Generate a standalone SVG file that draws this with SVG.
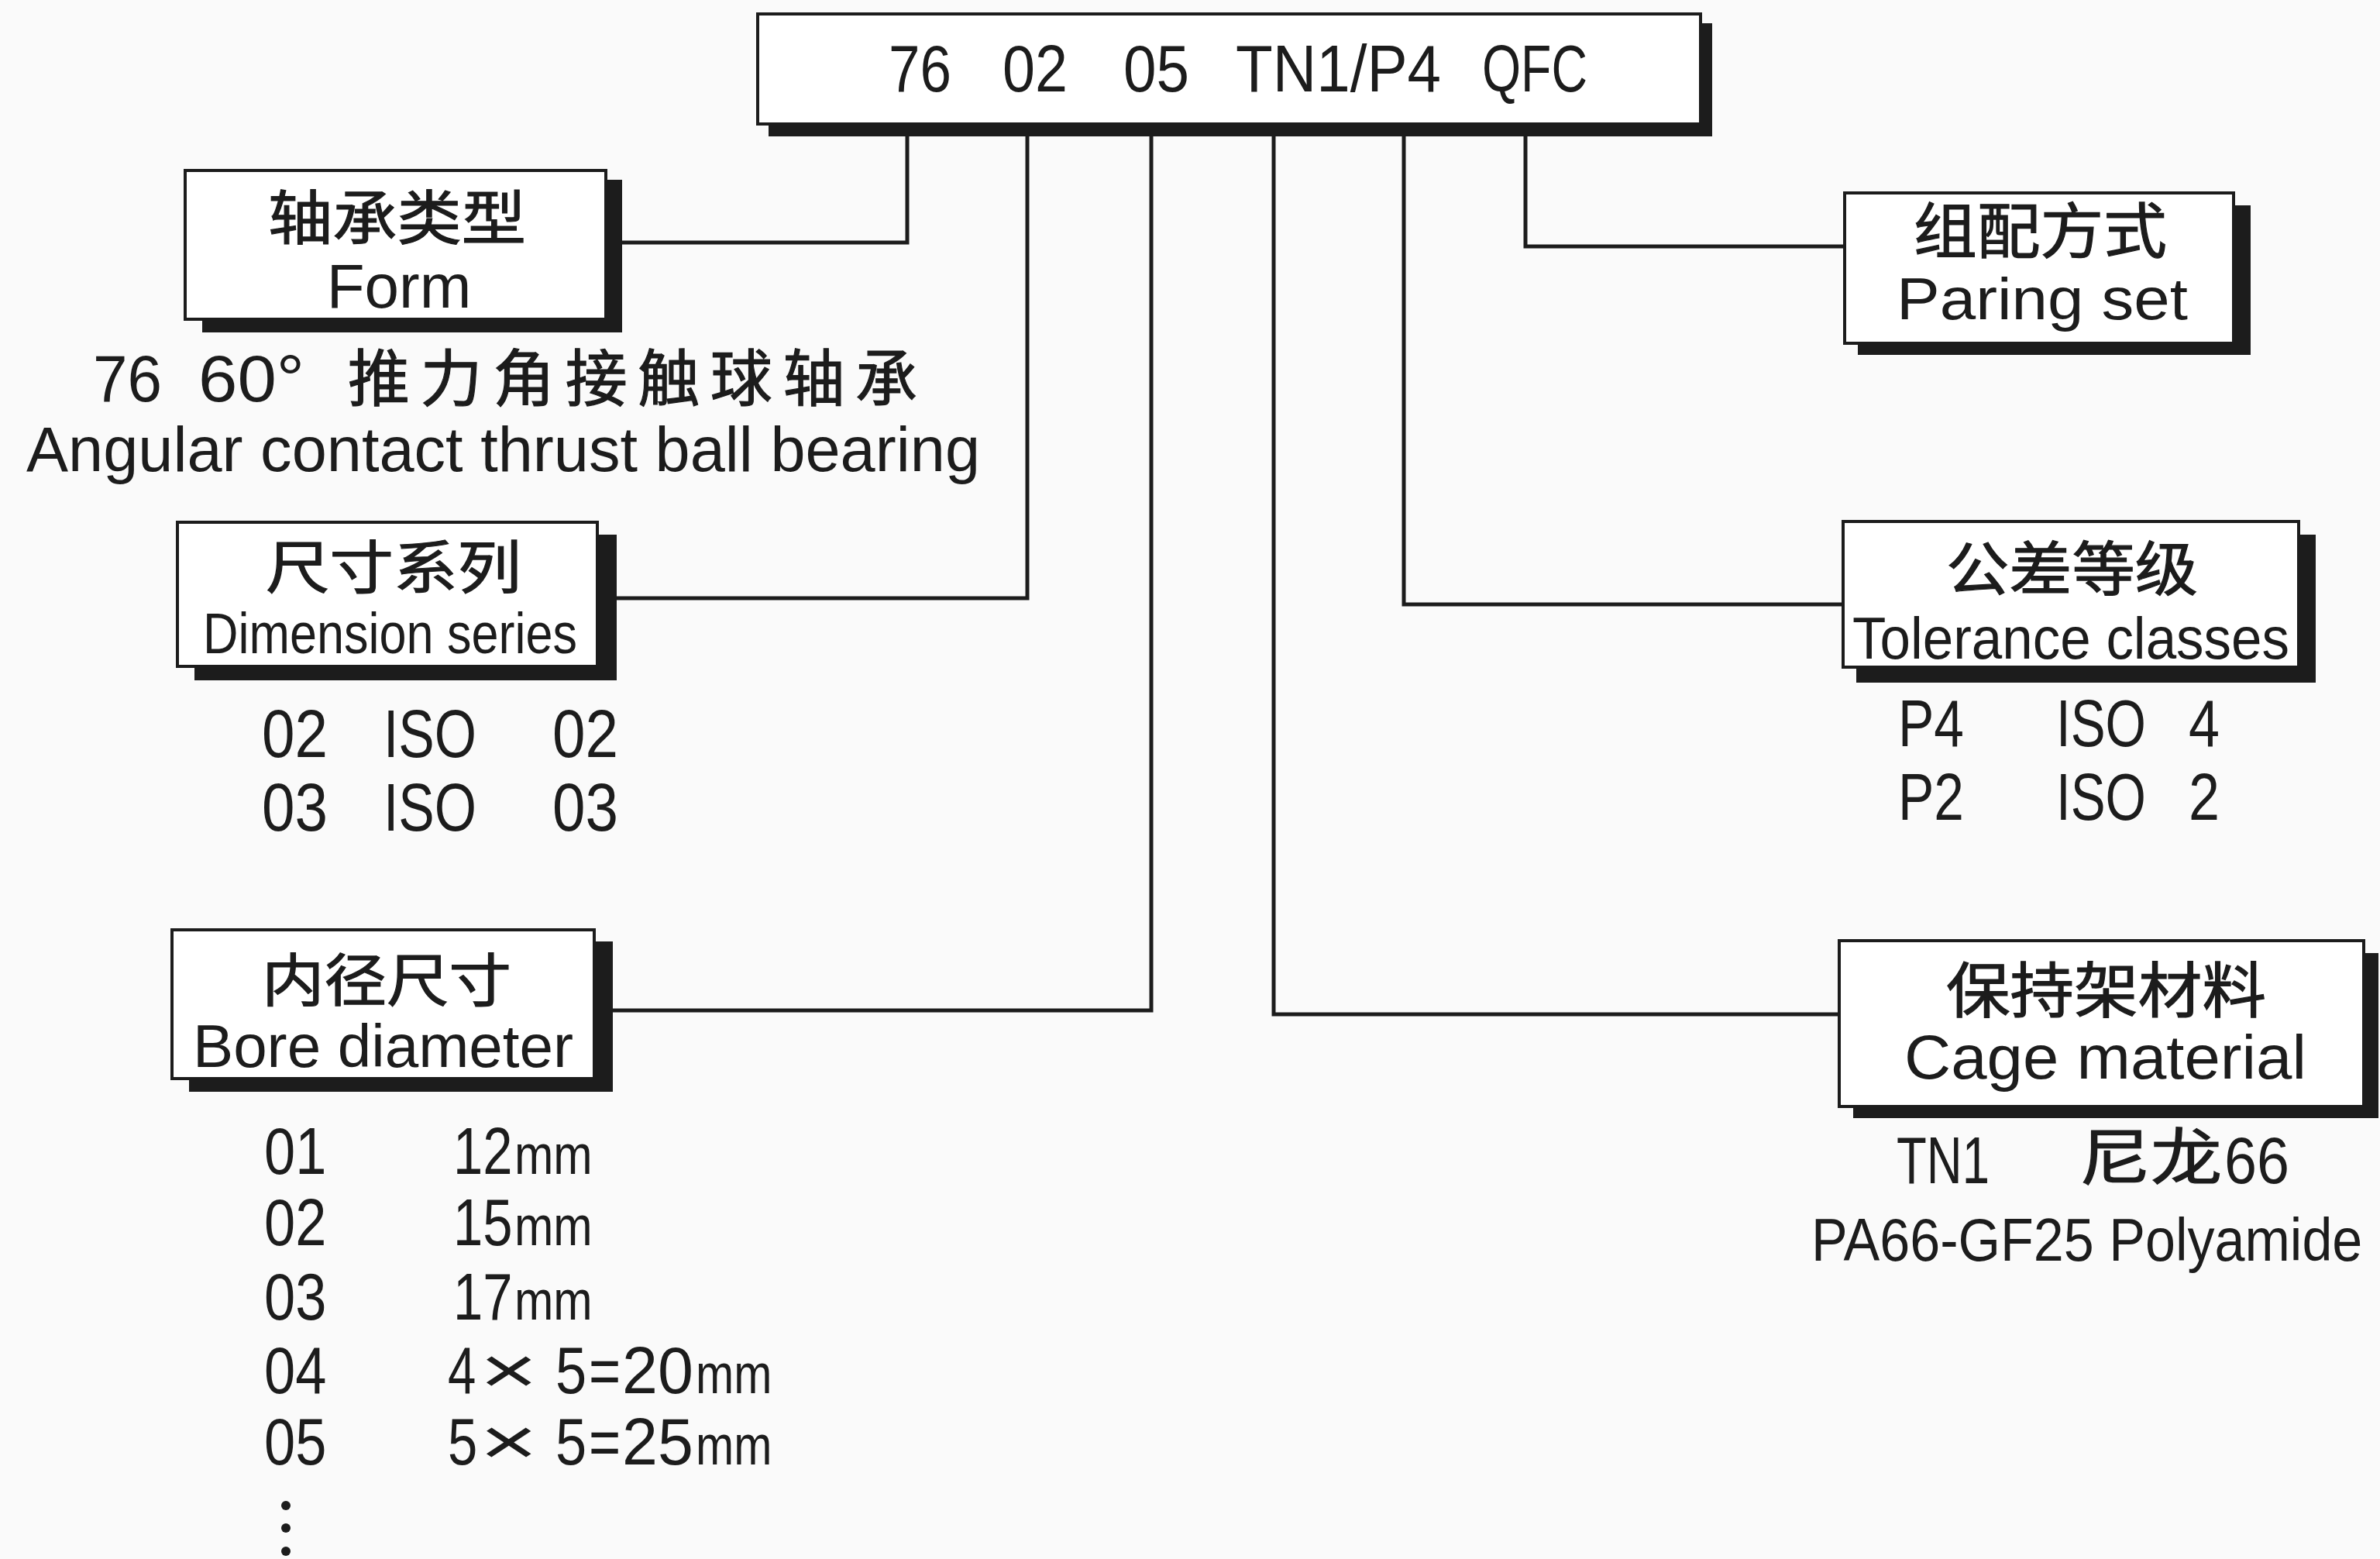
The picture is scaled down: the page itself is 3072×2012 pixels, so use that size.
<svg xmlns="http://www.w3.org/2000/svg" width="3072" height="2012" viewBox="0 0 3072 2012">
<style>
.bg{fill:#fafafa}
.box{fill:#ffffff;stroke:#1c1c1c;stroke-width:4}
.sh{fill:#1c1c1c}
.conn{fill:none;stroke:#1c1c1c;stroke-width:5}
.lat{font-family:"Liberation Sans",Arial,sans-serif;fill:#1c1c1c}
.cjk{font-family:"Noto Sans CJK SC",sans-serif;fill:#1c1c1c;stroke:#1c1c1c;stroke-width:1.2}
.mm{font-size:72px}
</style>
<rect class="bg" x="0" y="0" width="3072" height="2012"/>

<g id="connectors">
<path class="conn" d="M1171 170 V313 H790"/>
<path class="conn" d="M1326 170 V772 H778"/>
<path class="conn" d="M1486 170 V1304 H774"/>
<path class="conn" d="M1644 170 V1309 H2374"/>
<path class="conn" d="M1812 170 V780 H2379"/>
<path class="conn" d="M1969 170 V318 H2381"/>
</g>

<g id="code">
<rect class="sh" x="992" y="30" width="1218" height="146"/>
<rect class="box" x="978" y="18" width="1217" height="142"/>
<g class="lat" font-size="86">
<text x="1147" y="118" textLength="81" lengthAdjust="spacingAndGlyphs">76</text>
<text x="1294" y="118" textLength="84" lengthAdjust="spacingAndGlyphs">02</text>
<text x="1450" y="118" textLength="85" lengthAdjust="spacingAndGlyphs">05</text>
<text x="1595" y="118" textLength="265" lengthAdjust="spacingAndGlyphs">TN1/P4</text>
<text x="1913" y="118" textLength="136" lengthAdjust="spacingAndGlyphs">QFC</text>
</g>
</g>

<g id="form">
<rect class="sh" x="261" y="232" width="542" height="197"/>
<rect class="box" x="239" y="220" width="543" height="192"/>
<text class="cjk" x="346" y="309" font-size="76" textLength="333" lengthAdjust="spacingAndGlyphs">轴承类型</text>
<text class="lat" x="515" y="397" font-size="80" text-anchor="middle">Form</text>
<text class="lat" x="120" y="518" font-size="85" textLength="89" lengthAdjust="spacingAndGlyphs">76</text>
<text class="lat" x="256" y="518" font-size="85" textLength="137" lengthAdjust="spacingAndGlyphs">60°</text>
<text class="cjk" x="449" y="517" font-size="80" textLength="735">推力角接触球轴承</text>
<text class="lat" x="34" y="608" font-size="81" textLength="1231" lengthAdjust="spacingAndGlyphs">Angular contact thrust ball bearing</text>
</g>

<g id="dimension">
<rect class="sh" x="251" y="690" width="545" height="188"/>
<rect class="box" x="229" y="674" width="542" height="186"/>
<text class="cjk" x="343" y="759" font-size="74" textLength="330" lengthAdjust="spacingAndGlyphs">尺寸系列</text>
<text class="lat" x="262" y="843" font-size="75" textLength="483" lengthAdjust="spacingAndGlyphs">Dimension series</text>
<g class="lat" font-size="88">
<text x="338" y="977" textLength="85" lengthAdjust="spacingAndGlyphs">02</text>
<text x="495" y="977" textLength="120" lengthAdjust="spacingAndGlyphs">ISO</text>
<text x="713" y="977" textLength="85" lengthAdjust="spacingAndGlyphs">02</text>
<text x="338" y="1072" textLength="85" lengthAdjust="spacingAndGlyphs">03</text>
<text x="495" y="1072" textLength="120" lengthAdjust="spacingAndGlyphs">ISO</text>
<text x="713" y="1072" textLength="85" lengthAdjust="spacingAndGlyphs">03</text>
</g>
</g>

<g id="bore">
<rect class="sh" x="244" y="1215" width="547" height="194"/>
<rect class="box" x="222" y="1200" width="545" height="192"/>
<text class="cjk" x="338" y="1292" font-size="74" textLength="322" lengthAdjust="spacingAndGlyphs">内径尺寸</text>
<text class="lat" x="249" y="1377" font-size="77" textLength="491" lengthAdjust="spacingAndGlyphs">Bore diameter</text>
<g class="lat" font-size="86">
<text transform="translate(341,1515) scale(0.84,1)">01</text>
<text transform="translate(585,1515) scale(0.8,1)">12</text>
<text class="mm" transform="translate(664,1515) scale(0.84,1)">mm</text>
<text transform="translate(341,1607) scale(0.84,1)">02</text>
<text transform="translate(585,1607) scale(0.8,1)">15</text>
<text class="mm" transform="translate(664,1607) scale(0.84,1)">mm</text>
<text transform="translate(341,1703) scale(0.84,1)">03</text>
<text transform="translate(585,1703) scale(0.8,1)">17</text>
<text class="mm" transform="translate(664,1703) scale(0.84,1)">mm</text>
<text transform="translate(341,1798) scale(0.84,1)">04</text>
<text transform="translate(578,1798) scale(0.76,1)">4</text>
<text transform="translate(619,1798) scale(1.5,1)">×</text>
<text transform="translate(717,1798) scale(0.84,1)">5</text>
<text transform="translate(760,1798) scale(0.82,1)">=</text>
<text transform="translate(803,1798) scale(0.96,1)">20</text>
<text class="mm" transform="translate(898,1798) scale(0.82,1)">mm</text>
<text transform="translate(341,1890) scale(0.84,1)">05</text>
<text transform="translate(578,1890) scale(0.8,1)">5</text>
<text transform="translate(619,1890) scale(1.5,1)">×</text>
<text transform="translate(717,1890) scale(0.84,1)">5</text>
<text transform="translate(760,1890) scale(0.82,1)">=</text>
<text transform="translate(803,1890) scale(0.96,1)">25</text>
<text class="mm" transform="translate(898,1890) scale(0.82,1)">mm</text>
</g>
<circle cx="369" cy="1943" r="6" fill="#1c1c1c"/>
<circle cx="369" cy="1972" r="6" fill="#1c1c1c"/>
<circle cx="369" cy="2002" r="6" fill="#1c1c1c"/>
</g>

<g id="paring">
<rect class="sh" x="2398" y="265" width="507" height="193"/>
<rect class="box" x="2381" y="249" width="502" height="194"/>
<text class="cjk" x="2470" y="327" font-size="78" textLength="327" lengthAdjust="spacingAndGlyphs">组配方式</text>
<text class="lat" x="2448" y="412" font-size="76" textLength="376" lengthAdjust="spacingAndGlyphs">Paring set</text>
</g>

<g id="tolerance">
<rect class="sh" x="2396" y="690" width="593" height="191"/>
<rect class="box" x="2379" y="673" width="588" height="188"/>
<text class="cjk" x="2512" y="762" font-size="76" textLength="325" lengthAdjust="spacingAndGlyphs">公差等级</text>
<text class="lat" x="2391" y="850" font-size="76" textLength="564" lengthAdjust="spacingAndGlyphs">Tolerance classes</text>
<g class="lat" font-size="85">
<text x="2450" y="963" textLength="85" lengthAdjust="spacingAndGlyphs">P4</text>
<text x="2654" y="963" textLength="116" lengthAdjust="spacingAndGlyphs">ISO</text>
<text x="2825" y="963" textLength="40" lengthAdjust="spacingAndGlyphs">4</text>
<text x="2450" y="1058" textLength="85" lengthAdjust="spacingAndGlyphs">P2</text>
<text x="2654" y="1058" textLength="116" lengthAdjust="spacingAndGlyphs">ISO</text>
<text x="2825" y="1058" textLength="40" lengthAdjust="spacingAndGlyphs">2</text>
</g>
</g>

<g id="cage">
<rect class="sh" x="2392" y="1230" width="678" height="213"/>
<rect class="box" x="2374" y="1214" width="677" height="214"/>
<text class="cjk" x="2512" y="1307" font-size="78" textLength="413" lengthAdjust="spacingAndGlyphs">保持架材料</text>
<text class="lat" x="2458" y="1392" font-size="80" textLength="519" lengthAdjust="spacingAndGlyphs">Cage material</text>
<text class="lat" x="2448" y="1527" font-size="86" textLength="120" lengthAdjust="spacingAndGlyphs">TN1</text>
<text class="cjk" x="2684" y="1522" font-size="80" textLength="184" lengthAdjust="spacingAndGlyphs">尼龙</text>
<text class="lat" x="2871" y="1527" font-size="86" textLength="84" lengthAdjust="spacingAndGlyphs">66</text>
<text class="lat" font-size="77" transform="translate(2338,1627) scale(0.91,1)">PA66-GF25 Polyamide</text>
</g>
</svg>
